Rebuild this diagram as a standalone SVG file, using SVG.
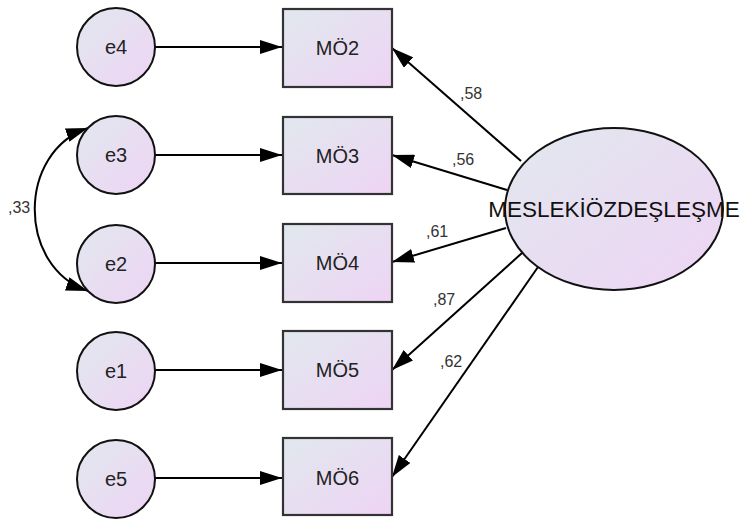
<svg xmlns="http://www.w3.org/2000/svg" width="743" height="523" viewBox="0 0 743 523">
  <defs>
    <linearGradient id="fillGrad" x1="0" y1="0" x2="1" y2="1">
      <stop offset="0" stop-color="#e1e8ee"/>
      <stop offset="1" stop-color="#eed4f4"/>
    </linearGradient>
    <marker id="arrow" viewBox="0 0 22 14" refX="22" refY="7" markerWidth="22" markerHeight="14" markerUnits="userSpaceOnUse" orient="auto-start-reverse">
      <path d="M0,0 L22,7 L0,14 z" fill="#000"/>
    </marker>
    <style>
      .conn { stroke: #000; stroke-width: 2; fill: none; marker-end: url(#arrow); }
      .err { fill: url(#fillGrad); stroke: #111; stroke-width: 2; }
      .obs { fill: url(#fillGrad); stroke: #333; stroke-width: 2.2; }
      .lat { fill: url(#fillGrad); stroke: #111; stroke-width: 2; }
      .lbl { font-family: "Liberation Sans", Arial, sans-serif; font-size: 20px; fill: #222; text-anchor: middle; }
      .big { font-family: "Liberation Sans", Arial, sans-serif; font-size: 22.5px; fill: #111; text-anchor: middle; }
      .coef { font-family: "Liberation Sans", Arial, sans-serif; font-size: 16px; fill: #333; }
    </style>
  </defs>

  <g id="connectors">
    <!-- error terms to indicators -->
    <line class="conn" x1="155" y1="47" x2="282" y2="47"/>
    <line class="conn" x1="155" y1="155" x2="282" y2="155"/>
    <line class="conn" x1="155" y1="263" x2="282" y2="263"/>
    <line class="conn" x1="155" y1="370" x2="282" y2="370"/>
    <line class="conn" x1="155" y1="478" x2="282" y2="478"/>
    <!-- factor loadings -->
    <line class="conn" x1="521" y1="161" x2="392" y2="48"/>
    <line class="conn" x1="507" y1="190" x2="392" y2="155"/>
    <line class="conn" x1="506" y1="228" x2="392" y2="262"/>
    <line class="conn" x1="522" y1="253" x2="392" y2="370"/>
    <line class="conn" x1="538" y1="267" x2="392" y2="477"/>
    <!-- covariance e3 <-> e2 -->
    <path class="conn" d="M88,128 C17,152 17,267 88,291" marker-start="url(#arrow)"/>
    <text class="coef" x="460" y="99">,58</text>
    <text class="coef" x="452" y="165">,56</text>
    <text class="coef" x="426" y="237">,61</text>
    <text class="coef" x="433" y="305">,87</text>
    <text class="coef" x="440" y="367">,62</text>
    <text class="coef" x="8" y="213">,33</text>
  </g>

  <g id="e4"><circle class="err" cx="116" cy="47" r="39"/><text class="lbl" x="116" y="54">e4</text></g>
  <g id="e3"><circle class="err" cx="116" cy="155" r="39"/><text class="lbl" x="116" y="162">e3</text></g>
  <g id="e2"><circle class="err" cx="116" cy="264" r="39"/><text class="lbl" x="116" y="271">e2</text></g>
  <g id="e1"><circle class="err" cx="116" cy="371" r="39"/><text class="lbl" x="116" y="378">e1</text></g>
  <g id="e5"><circle class="err" cx="116" cy="479" r="39"/><text class="lbl" x="116" y="486">e5</text></g>

  <g id="MO2"><rect class="obs" x="283" y="9" width="109" height="78"/><text class="lbl" x="337.5" y="55">MÖ2</text></g>
  <g id="MO3"><rect class="obs" x="283" y="117" width="109" height="77"/><text class="lbl" x="337.5" y="163">MÖ3</text></g>
  <g id="MO4"><rect class="obs" x="283" y="224" width="109" height="78"/><text class="lbl" x="337.5" y="270">MÖ4</text></g>
  <g id="MO5"><rect class="obs" x="283" y="331" width="109" height="78"/><text class="lbl" x="337.5" y="377">MÖ5</text></g>
  <g id="MO6"><rect class="obs" x="283" y="438" width="109" height="77"/><text class="lbl" x="337.5" y="485">MÖ6</text></g>

  <g id="MESLEKIOZDESLESME">
    <ellipse class="lat" cx="614" cy="209" rx="109" ry="81"/>
    <text class="big" x="614" y="217">MESLEKİÖZDEŞLEŞME</text>
  </g>
</svg>
